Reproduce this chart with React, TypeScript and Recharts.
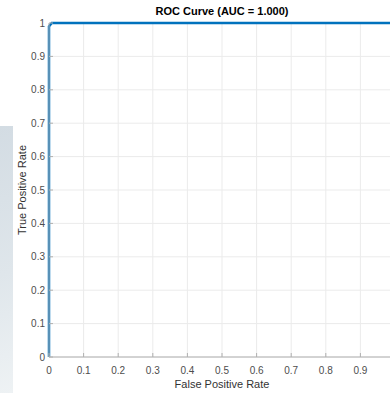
import { CartesianGrid, Line, LineChart, XAxis, YAxis } from "recharts";

// ROC points (false positive rate, true positive rate)
const fprValues = [0, 0, 0.008, 1];
const tprValues = [0, 0.99, 1, 1];
const xTicks = [0, 0.1, 0.2, 0.3, 0.4, 0.5, 0.6, 0.7, 0.8, 0.9, 1];
const yTicks = [0, 0.1, 0.2, 0.3, 0.4, 0.5, 0.6, 0.7, 0.8, 0.9, 1];

const rocData = fprValues.map((fpr, i) => ({ fpr, tpr: tprValues[i] }));

const font = '"Liberation Sans", Arial, Helvetica, sans-serif';
const tickColor = "#4d4d4d";
const axisColor = "#b0b0b0";

const fmt = (v: number) => String(Number(v.toFixed(1)));

function XTick(props: any) {
  const { x, y, payload } = props;
  // the last label sits past the right edge of the crop
  const showLabel = payload.value < 1;
  return (
    <g>
      <line x1={x} y1={y} x2={x} y2={y - 4} stroke={axisColor} strokeWidth={1} />
      {showLabel && (
        <text
          x={x}
          y={y + 17}
          textAnchor="middle"
          fill={tickColor}
          fontSize={10}
          fontFamily={font}
        >
          {fmt(payload.value)}
        </text>
      )}
    </g>
  );
}

function YTick(props: any) {
  const { x, y, payload } = props;
  return (
    <g>
      <line x1={x} y1={y} x2={x + 4} y2={y} stroke={axisColor} strokeWidth={1} />
      <text
        x={x - 4}
        y={y}
        dy="0.35em"
        textAnchor="end"
        fill={tickColor}
        fontSize={10}
        fontFamily={font}
      >
        {fmt(payload.value)}
      </text>
    </g>
  );
}

export default function App() {
  return (
    <div
      style={{
        position: "absolute",
        left: 0,
        top: 0,
        width: 390,
        height: 393,
        overflow: "hidden",
        background: "#fff",
        fontFamily: font,
      }}
    >
      <div
        style={{
          position: "absolute",
          left: 0,
          top: 126,
          width: 13,
          height: 267,
          background: "linear-gradient(160deg, #d3dce3 0%, #dfe6eb 55%, #eef2f4 100%)",
        }}
      />
      <LineChart
        width={420}
        height={393}
        data={rocData}
        margin={{ top: 23, right: 25, bottom: 0, left: 9 }}
      >
        <CartesianGrid stroke="#ebebeb" strokeWidth={1} />
        <XAxis
          type="number"
          dataKey="fpr"
          domain={[0, 1]}
          ticks={xTicks}
          interval={0}
          height={36}
          tickSize={0}
          tickMargin={0}
          tickLine={false}
          axisLine={{ stroke: axisColor }}
          tick={<XTick />}
        />
        <YAxis
          type="number"
          dataKey="tpr"
          domain={[0, 1]}
          ticks={yTicks}
          interval={0}
          width={40}
          tickSize={0}
          tickMargin={0}
          tickLine={false}
          axisLine={{ stroke: axisColor }}
          tick={<YTick />}
        />
        <Line
          type="linear"
          dataKey="tpr"
          stroke="#0072BD"
          strokeWidth={2.5}
          dot={false}
          isAnimationActive={false}
        />
      </LineChart>
      <div
        style={{
          position: "absolute",
          left: 122,
          width: 200,
          top: 5,
          textAlign: "center",
          fontSize: 11,
          fontWeight: "bold",
          color: "#000",
        }}
      >
        ROC Curve (AUC = 1.000)
      </div>
      <div
        style={{
          position: "absolute",
          left: 122,
          width: 200,
          top: 378,
          textAlign: "center",
          fontSize: 11,
          color: "#333",
        }}
      >
        False Positive Rate
      </div>
      <div
        style={{
          position: "absolute",
          left: 22 - 60,
          top: 190 - 7,
          width: 120,
          textAlign: "center",
          fontSize: 11,
          lineHeight: "14px",
          color: "#333",
          transform: "rotate(-90deg)",
        }}
      >
        True Positive Rate
      </div>
    </div>
  );
}
